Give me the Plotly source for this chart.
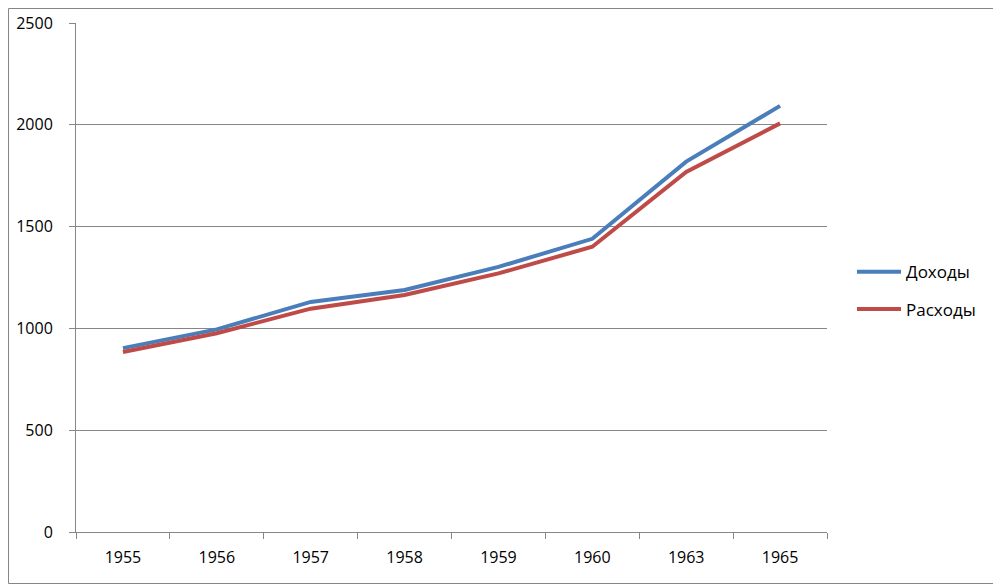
import plotly.graph_objects as go

years = ["1955", "1956", "1957", "1958", "1959", "1960", "1963", "1965"]
income = [903, 995, 1130, 1189, 1302, 1440, 1819, 2093]
expense = [884, 976, 1097, 1164, 1270, 1401, 1768, 2007]
y_ticks = [0, 500, 1000, 1500, 2000, 2500]

# page has an 8px body margin, so the figure is drawn offset by 8px
OFF = 8
W, H = 1001 - OFF, 585 - OFF
L, T = 76 - OFF, 23 - OFF
R = W - (827 - OFF)
B = H - (532 - OFF)

fig = go.Figure()
fig.add_trace(go.Scatter(x=years, y=income, mode="lines", name="Доходы",
                         line=dict(color="#4A7EBB", width=4), legendgroup="a"))
fig.add_trace(go.Scatter(x=years, y=expense, mode="lines", name="Расходы",
                         line=dict(color="#BE4B48", width=4), legendgroup="b"))

pw, ph = W - L - R, H - T - B
fig.add_shape(type="rect", xref="paper", yref="paper",
              x0=(-L + 0.5) / pw, x1=(W - L - 1.5) / pw,
              y0=(-B + 1.5) / ph, y1=(H - B - 0.5) / ph,
              line=dict(color="#868686", width=1), layer="above")

fig.update_layout(
    width=W, height=H,
    margin=dict(l=L, r=R, t=T, b=B, autoexpand=False),
    paper_bgcolor="white", plot_bgcolor="white",
    font=dict(family="Open Sans", size=16, color="black"),
    xaxis=dict(type="category", range=[-0.5, len(years) - 0.5], showgrid=False,
               showline=True, linecolor="#868686", automargin=False,
               linewidth=1, ticks="outside", tickson="boundaries", ticklen=6,
               tickcolor="#868686", ticklabelstandoff=11, zeroline=False),
    yaxis=dict(range=[0, 2500], tickvals=y_ticks, showgrid=True, gridcolor="#868686",
               gridwidth=1, showline=True, linecolor="#868686", ticks="outside",
               automargin=False,
               ticklen=6, tickcolor="#868686", zeroline=False, ticklabelstandoff=13),
    legend=dict(x=(852 - 76) / 751, y=0.474, xanchor="left", yanchor="middle",
                tracegroupgap=12, font=dict(size=17), itemwidth=44),
    showlegend=True,
)

fig.write_html("out.html")
